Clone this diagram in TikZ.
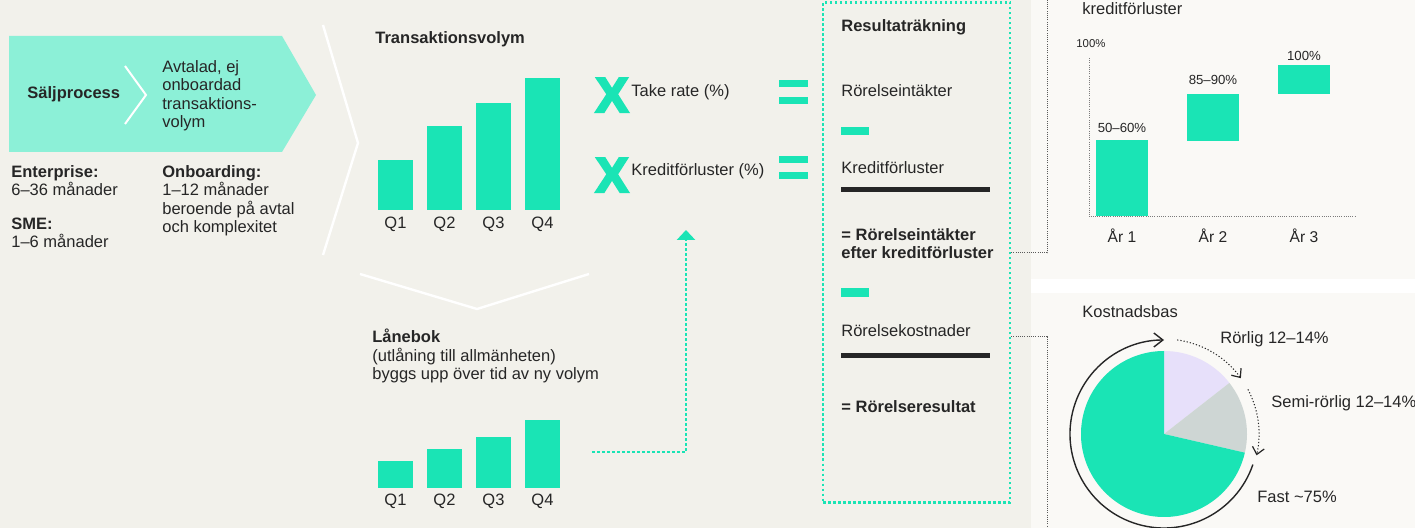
\documentclass[tikz,border=0pt]{standalone}
\usepackage{fontspec}
\setmainfont{Liberation Sans}
\newfontfamily\kryssfont[FakeBold=5]{Liberation Sans Bold}
\definecolor{rk_bg}{RGB}{242, 241, 235}
\definecolor{rk_panel}{RGB}{250, 249, 246}
\definecolor{rk_mint}{RGB}{140, 240, 215}
\definecolor{rk_green}{RGB}{26, 228, 181}
\definecolor{rk_ink}{RGB}{38, 38, 38}
\definecolor{rk_lav}{RGB}{231, 224, 250}
\definecolor{rk_grey}{RGB}{206, 214, 212}
\definecolor{rk_dot}{RGB}{90, 90, 90}
\usetikzlibrary{arrows.meta, positioning, calc}

\begin{document}
\begin{tikzpicture}[x=0.5pt, y=-0.5pt,
    txt/.style={anchor=base west, inner sep=0pt, text=rk_ink, align=left,
      font=\fontsize{8.25}{9.25}\selectfont},
    rubrik/.style={txt, font=\fontsize{8.25}{9.25}\selectfont\bfseries},
    mitt/.style={txt, anchor=base, align=center},
    liten/.style={mitt, font=\fontsize{6.6}{8}\selectfont},
    kryss/.style={anchor=base, inner sep=0pt, text=rk_green,
      font=\fontsize{24.5}{25}\kryssfont},
    gronprick/.style={rk_green, line width=1.25pt, dash pattern=on 1.25pt off 1.25pt},
    gprick/.style={rk_dot, line width=0.5pt, dash pattern=on 0.5pt off 0.6pt},
    resram/.style={draw=rk_green, line width=1.25pt, dash pattern=on 1.25pt off 1.25pt,
      minimum width=93.5pt, minimum height=250pt, inner sep=0pt},
    gang/.style={draw=white, line width=1.2pt},
  ]
  % Bakgrund
  \fill[rk_bg] (0,0) rectangle (1031,528);
  \fill[rk_panel] (1031,0) rectangle (1415,279);
  \fill[white] (1031,279) rectangle (1415,293);
  \fill[rk_panel] (1031,293) rectangle (1415,528);
  \useasboundingbox (0,0) rectangle (1415,528);

  % Säljprocess (flerradiga noder: basen ligger på sista raden)
  \fill[rk_mint] (9,36) -- (282,36) -- (316,95) -- (282,152) -- (9,152) -- cycle;
  \draw[white, line width=1pt] (125,66) -- (146,95) -- (125,124);
  \node[rubrik] (salj) at (27,99) {Säljprocess};
  \node[txt] (avtal) at (162,128) {Avtalad, ej\\onboardad\\transaktions-\\volym};
  \node[txt] (ent) at (11,196) {\textbf{Enterprise:}\\6–36 månader};
  \node[txt] (sme) at (11,248) {\textbf{SME:}\\1–6 månader};
  \node[txt] (onb) at (162,233) {\textbf{Onboarding:}\\1–12 månader\\beroende på avtal\\och komplexitet};
  \draw[gang] (323,25) -- (358,143) -- (323,255);
  \draw[gang] (360,274) -- (477,309) -- (589,274);

  % Transaktionsvolym
  \node[rubrik] (tvrub) at (375,44) {Transaktionsvolym};
  \foreach \x/\h/\q in {378/160/Q1, 427/126/Q2, 476/103/Q3, 525/78/Q4} {
    \fill[rk_green] (\x,\h) rectangle (\x+35,210);
    \node[mitt] (tv\q) at (\x+17.5,229) {\q};
  }

  % Lånebok
  \node[txt] (lan) at (372,380) {\textbf{Lånebok}\\(utlåning till allmänheten)\\byggs upp över tid av ny volym};
  \foreach \x/\h/\q in {378/461/Q1, 427/449/Q2, 476/437/Q3, 525/420/Q4} {
    \fill[rk_green] (\x,\h) rectangle (\x+35,488);
    \node[mitt] (lb\q) at (\x+17.5,506) {\q};
  }
  \coordinate (lanstart) at (592,452);
  \coordinate (lanhorn) at (686,452);
  \coordinate (pilspets) at (686,230);
  \draw[gronprick, -{Triangle[width=9pt, length=5pt]}] (lanstart) -- (lanhorn) -- (pilspets);

  % Multiplikatorer
  \node[kryss] (x1) at (612,112) {X};
  \node[kryss] (x2) at (612,192) {X};
  \node[txt] (take) at (631,97) {Take rate (\%)};
  \node[txt] (kfproc) at (631,176) {Kreditförluster (\%)};
  \fill[rk_green] (779,80) rectangle (808,87);
  \fill[rk_green] (779,97) rectangle (808,104);
  \fill[rk_green] (779,156) rectangle (808,163);
  \fill[rk_green] (779,172) rectangle (808,179);

  % Resultaträkning
  \node[resram] (res) at (916.5,252.5) {};
  \node[rubrik] (resrub) at (841,32) {Resultaträkning};
  \node[txt] (intakt) at (841,97) {Rörelseintäkter};
  \fill[rk_green] (841,127) rectangle (869,135);
  \node[txt] (kredf) at (841,174) {Kreditförluster};
  \fill[rk_ink] (841,187) rectangle (990,192);
  \node[rubrik] (efter) at (841,259) {= Rörelseintäkter\\efter kreditförluster};
  \fill[rk_green] (841,288) rectangle (869,297);
  \node[txt] (kost) at (841,337) {Rörelsekostnader};
  \fill[rk_ink] (841,353) rectangle (990,358);
  \node[rubrik] (resultat) at (841,413) {= Rörelseresultat};

  % Kopplingar till panelerna
  \coordinate (krmitt) at (1047,253);
  \coordinate (krtopp) at (1047,0);
  \coordinate (kostmitt) at (1047,337);
  \coordinate (kostbotten) at (1047,528);
  \draw[gprick] (res.east |- krmitt) -- (krmitt) -- (krtopp);
  \draw[gprick] (res.east |- kostmitt) -- (kostmitt) -- (kostbotten);

  % Kreditförluster per år
  \node[txt] (krrub) at (1082,15) {kreditförluster};
  \node[txt, font=\fontsize{5.7}{7}\selectfont] (hundra) at (1076,48) {100\%};
  \draw[gprick, rk_dot!80] (1089,58) -- (1089,217) -- (1355,217);
  \fill[rk_green] (1096,140) rectangle (1148,216);
  \fill[rk_green] (1187,94) rectangle (1239,141);
  \fill[rk_green] (1278,65) rectangle (1330,94);
  \node[liten] (ar1v) at (1122,133) {50–60\%};
  \node[liten] (ar2v) at (1213,85) {85–90\%};
  \node[liten] (ar3v) at (1304,61) {100\%};
  \node[mitt, font=\fontsize{7.8}{9}\selectfont] (ar1) at (1122,243) {År 1};
  \node[mitt, font=\fontsize{7.8}{9}\selectfont] (ar2) at (1213,243) {År 2};
  \node[mitt, font=\fontsize{7.8}{9}\selectfont] (ar3) at (1304,243) {År 3};

  % Kostnadsbas
  \node[txt] (kostrub) at (1082,318) {Kostnadsbas};
  \begin{scope}[shift={(1164,434)}, yscale=-1]
    \fill[rk_lav] (0,0) -- (90:83) arc[start angle=90, end angle=38, radius=83] -- cycle;
    \fill[rk_grey] (0,0) -- (38:83) arc[start angle=38, end angle=-13, radius=83] -- cycle;
    \fill[rk_green] (0,0) -- (-13:83) arc[start angle=-13, end angle=-270, radius=83] -- cycle;
    \draw[rk_ink, line width=0.7pt, -{Straight Barb[length=4.5pt, width=7pt]}]
      (-19:94) arc[start angle=-19, end angle=-270, radius=94];
    \draw[rk_ink, line width=0.5pt, dash pattern=on 0.6pt off 1pt,
      -{Straight Barb[length=3.5pt, width=6pt, line width=0.6pt]}]
      (82:95) arc[start angle=82, end angle=36, radius=95];
    \draw[rk_ink, line width=0.5pt, dash pattern=on 0.6pt off 1pt,
      -{Straight Barb[length=3.5pt, width=6pt, line width=0.6pt]}]
      (28:95) arc[start angle=28, end angle=-13, radius=95];
  \end{scope}
  \node[txt] (rorlig) at (1220,344) {Rörlig 12–14\%};
  \node[txt] (semi) at (1271,408) {Semi-rörlig 12–14\%};
  \node[txt] (fast) at (1257,503) {Fast \textasciitilde75\%};
\end{tikzpicture}
\end{document}
